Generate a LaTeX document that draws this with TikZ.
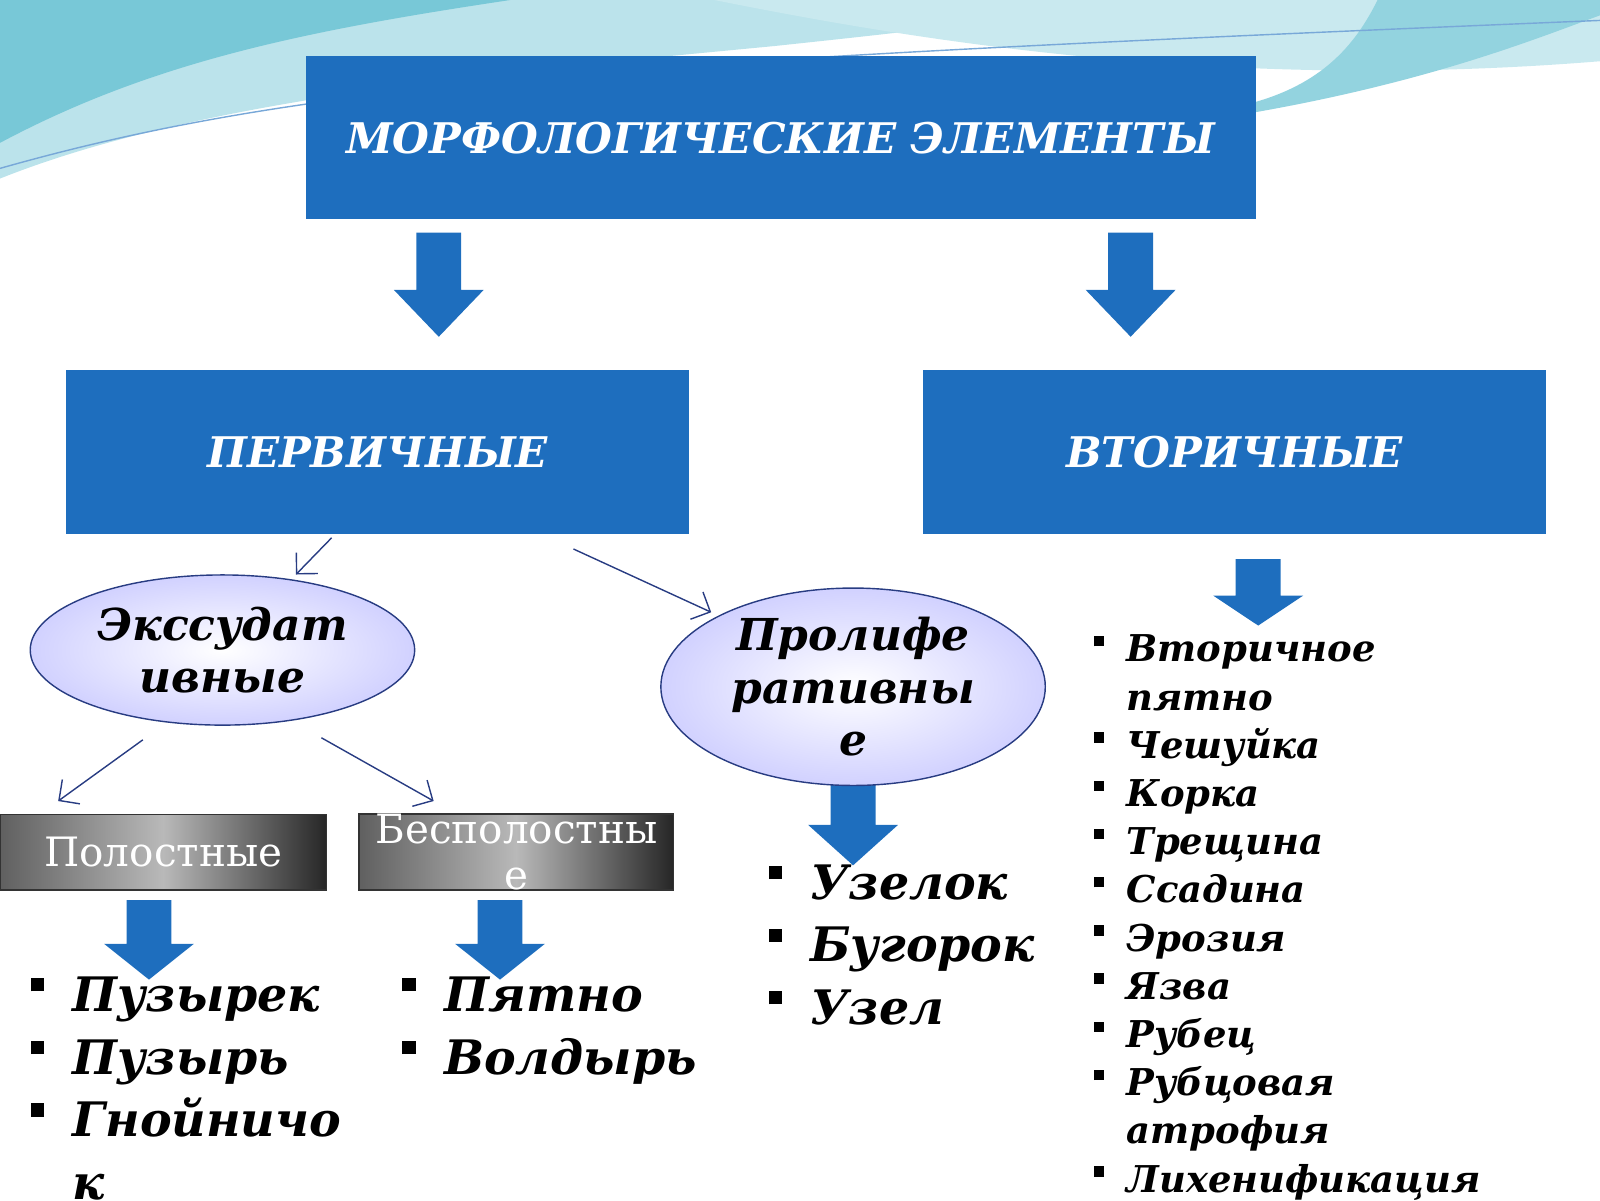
\documentclass[tikz,border=0pt]{standalone}
\usepackage{fontspec}
\setmainfont{DejaVu Serif}
\usetikzlibrary{shapes.geometric, arrows.meta}
\definecolor{boxblue}{RGB}{30,110,190}
\definecolor{wavecyan}{RGB}{120,200,215}
\definecolor{ovalblue}{RGB}{40,60,130}
\newcommand{\bul}{\rule[0.42em]{0.28em}{0.28em}\hspace{0.6em}}
\newcommand{\nobul}{\hphantom{\bul}}
% block arrow: name, x, y (top), length
\newcommand{\blockarrow}[4]{%
  \fill[boxblue] (#2-22,#3) -- (#2+22,#3) -- (#2+22,#3+#4*0.55) -- (#2+44,#3+#4*0.55)
    -- (#2,#3+#4) -- (#2-44,#3+#4*0.55) -- (#2-22,#3+#4*0.55) -- cycle;
  \coordinate (#1) at (#2,#3+#4);}

\begin{document}
\begin{tikzpicture}[
    x=0.0102cm, y=-0.0102cm,
    % Node styles
    header/.style={rectangle, fill=boxblue, text=white, inner sep=0pt,
                   font=\bfseries\itshape\fontsize{12}{16}\selectfont},
    oval/.style={ellipse, draw=ovalblue, inner color=white, outer color=blue!18,
                 inner sep=0pt, align=center, minimum width=3.84cm, minimum height=1.5cm,
                 font=\bfseries\itshape\fontsize{12.5}{15}\selectfont},
    cavity/.style={rectangle, draw=gray!40!black, left color=gray!75!black, right color=black!85,
                   middle color=gray!55, text=white, align=center, inner sep=0pt,
                   minimum height=0.755cm, font=\fontsize{11.5}{13}\selectfont},
    thinarrow/.style={->, draw=ovalblue, thin, >={Straight Barb[length=1.5mm]}},
    biglist/.style={anchor=north west, align=left, font=\bfseries\itshape\fontsize{13.5}{17.8}\selectfont},
    smalllist/.style={anchor=north west, align=left, font=\bfseries\itshape\fontsize{10.5}{13.7}\selectfont}
]
\useasboundingbox (0,0) rectangle (1568,1176);

% Background wave
\fill[wavecyan!50] (0,0) -- (0,175) .. controls (200,95) and (500,70) .. (760,45)
    .. controls (900,30) and (1000,20) .. (1050,0) -- cycle;
\fill[wavecyan] (0,0) -- (0,140) .. controls (150,60) and (300,30) .. (500,0) -- cycle;
\fill[wavecyan!40] (700,0) .. controls (900,40) and (1200,90) .. (1568,60) -- (1568,0) -- cycle;
\fill[wavecyan!80] (1230,110) .. controls (1400,80) and (1500,40) .. (1568,15) -- (1568,0)
    -- (1350,0) .. controls (1330,40) and (1300,80) .. (1230,100) -- cycle;
\draw[boxblue!60, thin] (0,165) .. controls (300,80) and (600,60) .. (1568,20);

% Headers
\node (morph) [header, minimum width=9.49cm, minimum height=1.63cm] at (765,135) {МОРФОЛОГИЧЕСКИЕ ЭЛЕМЕНТЫ};
\node (prim) [header, minimum width=6.22cm, minimum height=1.63cm] at (370,443) {ПЕРВИЧНЫЕ};
\node (sec) [header, minimum width=6.22cm, minimum height=1.63cm] at (1210,443) {ВТОРИЧНЫЕ};

% Block arrows
\blockarrow{a1}{430}{228}{102}
\blockarrow{a2}{1108}{228}{102}
\blockarrow{a3}{1233}{548}{65}
\blockarrow{a4}{836}{760}{88}
\blockarrow{a5}{146}{882}{78}
\blockarrow{a6}{490}{882}{78}

% Ovals
\node (exs) [oval] at (218,637) {Экссудат\\ивные};
\node (prol) [oval] at (836,673) {Пролифе\\ративны\\е};

% Gray boxes
\node (pol) [cavity, minimum width=3.26cm] at (160,835) {Полостные};
\node (bespol) [cavity, minimum width=3.14cm] at (506,835) {Бесполостны\\е};

% Thin arrows
\coordinate (p1) at (325,527);
\coordinate (p2) at (562,538);
\coordinate (e1) at (140,725);
\coordinate (e2) at (315,723);
\coordinate (t1) at (290,563);
\coordinate (t2) at (697,600);
\coordinate (t3) at (57,785);
\coordinate (t4) at (425,785);
\draw[thinarrow] (p1) -- (t1);
\draw[thinarrow] (p2) -- (t2);
\draw[thinarrow] (e1) -- (t3);
\draw[thinarrow] (e2) -- (t4);

% Lists
\node (l1) [biglist] at (18,945) {\bul Пузырек\\\bul Пузырь\\\bul Гнойничо\\\nobul к};
\node (l2) [biglist] at (382,945) {\bul Пятно\\\bul Волдырь};
\node (l3) [biglist] at (741,835) {\bul Узелок\\\bul Бугорок\\\bul Узел};
\node (l4) [smalllist] at (1060,610) {\bul Вторичное\\\nobul пятно\\
  \bul Чешуйка\\\bul Корка\\\bul Трещина\\\bul Ссадина\\\bul Эрозия\\\bul Язва\\
  \bul Рубец\\\bul Рубцовая\\\nobul атрофия\\\bul Лихенификация};
\end{tikzpicture}
\end{document}
